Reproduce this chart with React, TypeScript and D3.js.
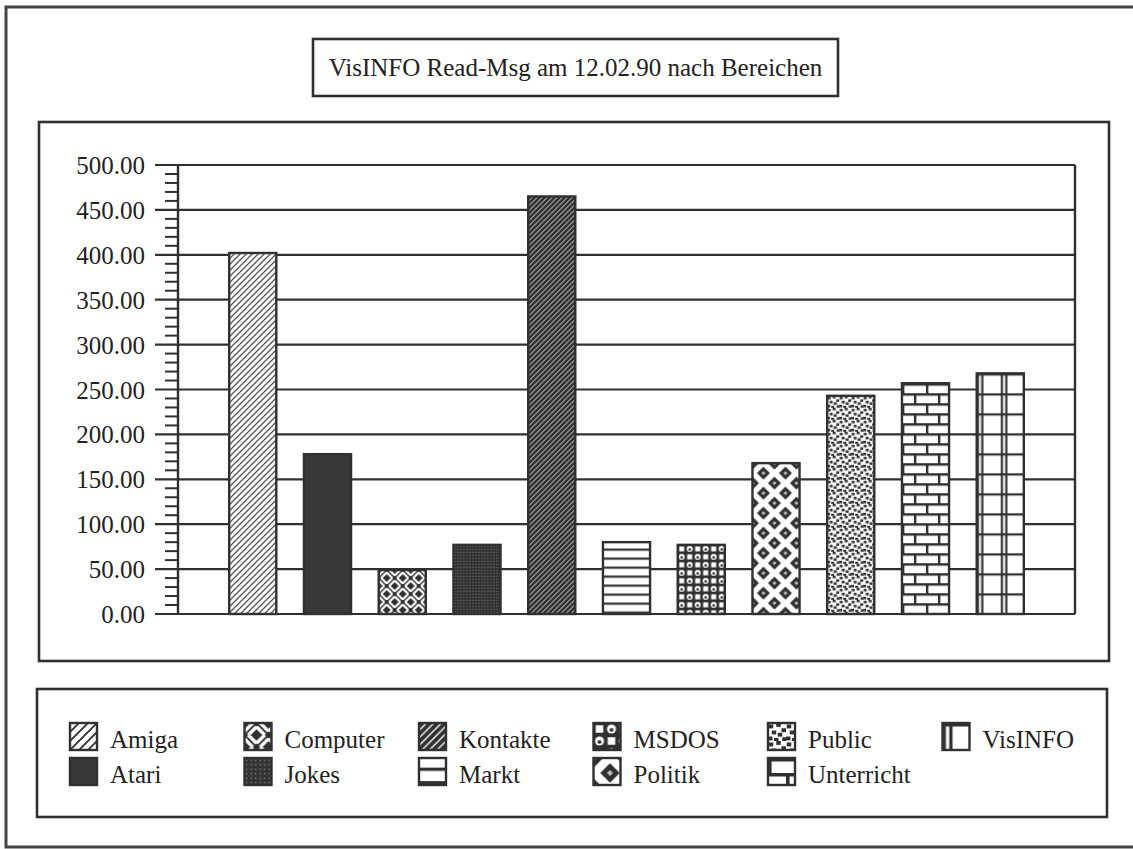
import React, { useEffect, useRef } from 'react';
import * as d3 from 'd3';

const categories: string[] = [
  'Amiga', 'Atari', 'Computer', 'Jokes', 'Kontakte', 'Markt',
  'MSDOS', 'Politik', 'Public', 'Unterricht', 'VisINFO',
];
const readMsg: number[] = [402, 178, 49, 77, 465, 80, 77, 168, 243, 257, 268];
const yTicks: number[] = [0, 50, 100, 150, 200, 250, 300, 350, 400, 450, 500];
const chartTitle = 'VisINFO Read-Msg am 12.02.90 nach Bereichen';

const INK = '#303030';
const FONT = "'Liberation Serif', 'Times New Roman', Times, serif";

// tile size of each fill pattern
const tiles: Record<string, [number, number]> = {
  Amiga: [6, 6], Atari: [4, 4], Computer: [16, 16], Jokes: [3, 3],
  Kontakte: [5, 5], Markt: [9, 9], MSDOS: [16, 16], Politik: [22, 20],
  Public: [12, 12], Unterricht: [24, 20], VisINFO: [24, 20],
};

function addPattern(defs: any, id: string, name: string, transform: string) {
  const [w, h] = tiles[name];
  const p = defs
    .append('pattern')
    .attr('id', id)
    .attr('patternUnits', 'userSpaceOnUse')
    .attr('width', w)
    .attr('height', h)
    .attr('patternTransform', transform);
  const bg = (c: string) => p.append('rect').attr('width', w).attr('height', h).attr('fill', c);
  const path = (d: string, c: string, sw: number) =>
    p.append('path').attr('d', d).attr('stroke', c).attr('stroke-width', sw).attr('fill', 'none');

  switch (name) {
    case 'Amiga':
      bg('#fff');
      path('M-1,7L7,-1M-1,1L1,-1M5,7L7,5', INK, 1.2);
      break;
    case 'Atari':
      bg('#383838');
      break;
    case 'Computer':
      bg(INK);
      path(
        'M0,5.5L5.5,0M2.5,8L8,2.5M8,13.5L13.5,8M10.5,16L16,10.5' +
          'M8,2.5L13.5,8M10.5,0L16,5.5M0,10.5L5.5,16M2.5,8L8,13.5',
        '#fff',
        2.2
      );
      break;
    case 'Jokes':
      bg('#333');
      p.append('rect').attr('x', 1).attr('y', 1).attr('width', 1).attr('height', 1)
        .attr('fill', '#fff').attr('opacity', 0.35);
      break;
    case 'Kontakte':
      bg(INK);
      path('M-1,6L6,-1M-1,1L1,-1M4,6L6,4', '#fff', 0.9);
      break;
    case 'Markt':
      bg('#fff');
      path('M0,7.5H9', INK, 2.2);
      break;
    case 'MSDOS':
      bg(INK);
      p.append('rect').attr('x', 1.5).attr('y', 1.5).attr('width', 5).attr('height', 5).attr('fill', '#fff');
      p.append('rect').attr('x', 9.5).attr('y', 9.5).attr('width', 5).attr('height', 5).attr('fill', '#fff');
      [[12, 4], [4, 12]].forEach(([cx, cy]) => {
        p.append('circle').attr('cx', cx).attr('cy', cy).attr('r', 3).attr('fill', '#fff');
        p.append('circle').attr('cx', cx).attr('cy', cy + 0.6).attr('r', 1.3).attr('fill', INK);
      });
      break;
    case 'Politik':
      bg('#fff');
      [[11, 10], [0, 0], [22, 0], [0, 20], [22, 20]].forEach(([cx, cy]) => {
        p.append('path')
          .attr('d', `M${cx},${cy - 6.5}L${cx + 6.5},${cy}L${cx},${cy + 6.5}L${cx - 6.5},${cy}Z`)
          .attr('fill', INK);
        p.append('path')
          .attr('d', `M${cx},${cy - 2}L${cx + 2},${cy}L${cx},${cy + 2}L${cx - 2},${cy}Z`)
          .attr('fill', '#fff')
          .attr('opacity', 0.7);
      });
      break;
    case 'Public':
      bg('#fff');
      [[0.5, 1], [5.5, 0], [9, 3.5], [2.5, 5], [6.5, 6.5], [0, 9], [4, 10], [9.5, 9.5]].forEach(([x, y]) =>
        p.append('rect').attr('x', x).attr('y', y).attr('width', 3).attr('height', 2.6).attr('fill', INK)
      );
      break;
    case 'Unterricht':
      bg('#fff');
      path('M0,1.2H24M0,11.2H24M1.2,1.2V11.2M13.2,11.2V20', INK, 2.4);
      path('M13.2,0V1.2', INK, 2.4);
      break;
    case 'VisINFO':
      bg('#fff');
      path('M0,1.2H24M1.2,0V20M5.6,0V20', INK, 2.2);
      break;
  }
}

const App: React.FC = () => {
  const svgRef = useRef<SVGSVGElement | null>(null);

  useEffect(() => {
    if (!svgRef.current) return;
    const W = 1133;
    const H = 849;

    d3.select(svgRef.current).selectAll('*').remove();
    const svg = d3.select(svgRef.current).attr('width', W).attr('height', H);
    const defs = svg.append('defs');

    svg.append('rect').attr('width', W).attr('height', H).attr('fill', '#fff');

    // outer frame (cut off at the right edge)
    svg.append('rect')
      .attr('x', 6).attr('y', 7).attr('width', 1150).attr('height', 840)
      .attr('fill', 'none').attr('stroke', '#444').attr('stroke-width', 3);

    // title box
    svg.append('rect')
      .attr('x', 313).attr('y', 39).attr('width', 525).attr('height', 57)
      .attr('fill', 'none').attr('stroke', INK).attr('stroke-width', 2.6);
    svg.append('text')
      .attr('x', 575.5).attr('y', 76)
      .attr('text-anchor', 'middle')
      .attr('font-family', FONT).attr('font-size', 25).attr('fill', '#222')
      .text(chartTitle);

    // plot panel and legend panel
    svg.append('rect')
      .attr('x', 39).attr('y', 122).attr('width', 1070).attr('height', 539)
      .attr('fill', 'none').attr('stroke', INK).attr('stroke-width', 2.6);
    svg.append('rect')
      .attr('x', 37).attr('y', 689).attr('width', 1070).attr('height', 128)
      .attr('fill', 'none').attr('stroke', INK).attr('stroke-width', 2.6);

    // scales
    const left = 178;
    const right = 1075;
    const x = d3.scaleBand<string>()
      .domain(categories)
      .range([left, right])
      .paddingInner(0.37)
      .paddingOuter(0.685);
    const y = d3.scaleLinear().domain([0, 500]).range([614, 165]);

    const chart = svg.append('g');

    // gridlines + major ticks
    chart.selectAll('.grid')
      .data(yTicks)
      .enter()
      .append('line')
      .attr('x1', 155).attr('x2', right)
      .attr('y1', (d) => y(d)).attr('y2', (d) => y(d))
      .attr('stroke', INK).attr('stroke-width', 2.2);

    // minor ticks
    chart.selectAll('.minor')
      .data(d3.range(0, 501, 10).filter((v) => v % 50 !== 0))
      .enter()
      .append('line')
      .attr('x1', 165).attr('x2', left)
      .attr('y1', (d) => y(d)).attr('y2', (d) => y(d))
      .attr('stroke', INK).attr('stroke-width', 2);

    // tick labels
    chart.selectAll('.ylab')
      .data(yTicks)
      .enter()
      .append('text')
      .attr('x', 145)
      .attr('y', (d) => y(d) + 9)
      .attr('text-anchor', 'end')
      .attr('font-family', FONT).attr('font-size', 25).attr('fill', '#222')
      .text((d) => d3.format('.2f')(d));

    // bars
    categories.forEach((c, i) => {
      const bx = x(c) || 0;
      const top = y(readMsg[i]);
      addPattern(defs, `bar-${i}`, c, `translate(${bx},${top})`);
      chart.append('rect')
        .attr('x', bx)
        .attr('y', top)
        .attr('width', x.bandwidth())
        .attr('height', y(0) - top)
        .attr('fill', `url(#bar-${i})`)
        .attr('stroke', INK)
        .attr('stroke-width', 2.4);
    });

    // axis line and right border
    chart.append('line')
      .attr('x1', left).attr('x2', left).attr('y1', y(0)).attr('y2', y(500))
      .attr('stroke', INK).attr('stroke-width', 2.4);
    chart.append('line')
      .attr('x1', right).attr('x2', right).attr('y1', y(0)).attr('y2', y(500))
      .attr('stroke', INK).attr('stroke-width', 2.4);

    // legend, filled column by column
    const legend = svg.append('g');
    categories.forEach((c, i) => {
      const sx = 70 + Math.floor(i / 2) * 174.5;
      const base = i % 2 === 0 ? 748 : 783;
      const sy = base - 25;
      addPattern(defs, `leg-${i}`, c, `translate(${sx},${sy}) scale(1.5)`);
      legend.append('rect')
        .attr('x', sx).attr('y', sy).attr('width', 27).attr('height', 27)
        .attr('fill', `url(#leg-${i})`)
        .attr('stroke', INK).attr('stroke-width', 2.4);
      legend.append('text')
        .attr('x', sx + 40).attr('y', base)
        .attr('font-family', FONT).attr('font-size', 25).attr('fill', '#222')
        .text(c);
    });
  }, []);

  return (
    <svg
      ref={svgRef}
      style={{ position: 'absolute', left: 0, top: 0, display: 'block' }}
    ></svg>
  );
};

export default App;
